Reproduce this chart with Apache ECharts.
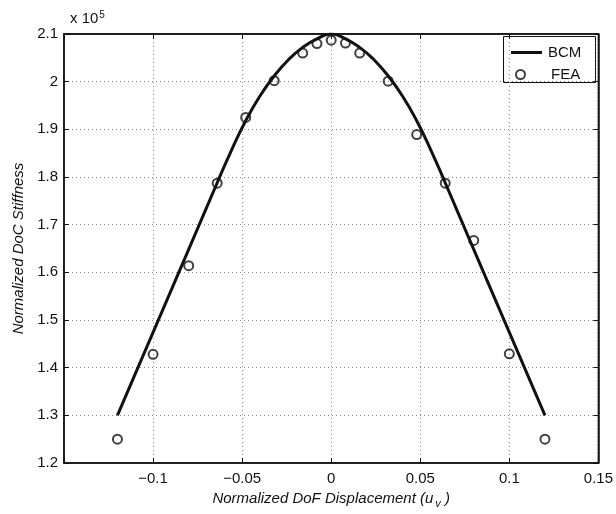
<!DOCTYPE html>
<html>
<head>
<meta charset="utf-8">
<script src="https://cdn.jsdelivr.net/npm/echarts@6/dist/echarts.min.js"></script>
<style>html,body{margin:0;padding:0;background:#fff}#c{width:616px;height:514px}</style>
</head>
<body>
<div id="c"></div>
<script>
// BCM curve (x, stiffness in units of 1e5)
const bcmX = [-0.12, -0.10, -0.08, -0.064, -0.056, -0.048, -0.04, -0.032, -0.024, -0.016, -0.008, 0, 0.008, 0.016, 0.024, 0.032, 0.04, 0.048, 0.056, 0.064, 0.08, 0.10, 0.12];
const bcmY = [1.300, 1.474, 1.648, 1.788, 1.856, 1.918, 1.970, 2.012, 2.046, 2.072, 2.090, 2.100, 2.090, 2.072, 2.046, 2.012, 1.970, 1.918, 1.856, 1.788, 1.648, 1.474, 1.300];
// FEA points
const feaX = [-0.12, -0.10, -0.08, -0.064, -0.048, -0.032, -0.016, -0.008, 0, 0.008, 0.016, 0.032, 0.048, 0.064, 0.08, 0.10, 0.12];
const feaY = [1.25, 1.428, 1.614, 1.787, 1.925, 2.002, 2.060, 2.080, 2.087, 2.081, 2.060, 2.001, 1.889, 1.787, 1.667, 1.429, 1.250];
const xTicks = [-0.15, -0.1, -0.05, 0, 0.05, 0.1, 0.15];
const yTicks = [1.2, 1.3, 1.4, 1.5, 1.6, 1.7, 1.8, 1.9, 2.0, 2.1];

const FONT = '"Liberation Sans", Arial, Helvetica, sans-serif';
const chart = echarts.init(document.getElementById('c'));
const fmtX = v => {
  if (Math.abs(v - xTicks[0]) < 1e-9) return '';
  const s = String(Number(v.toFixed(3)));
  return s.replace('-', '\u2212');
};
const fmtY = v => String(Number(v.toFixed(2)));
const gridLine = {show: true, lineStyle: {color: '#888', type: [1, 3], width: 1}};
const axisLine = {show: true, onZero: false, lineStyle: {color: '#111', width: 1.5}};
const tick = {show: true, inside: true, length: 5, lineStyle: {color: '#111'}};
chart.setOption({
  animation: false,
  backgroundColor: '#fff',
  title: {
    text: 'x 10{s|5}', left: 65, top: 5,
    textStyle: {fontFamily: FONT, fontSize: 15, fontWeight: 'normal', color: '#111',
      rich: {s: {fontFamily: FONT, fontSize: 10, verticalAlign: 'top', padding: [0, 0, 8, 1], color: '#111'}}}
  },
  grid: {left: 64, right: 16, top: 34, bottom: 48, show: true, borderColor: '#111', borderWidth: 1.5, backgroundColor: 'transparent'},
  xAxis: [{
    type: 'value', min: xTicks[0], max: xTicks[xTicks.length - 1], interval: 0.05,
    axisLine: axisLine, axisTick: tick,
    axisLabel: {formatter: fmtX, fontFamily: FONT, fontSize: 15, color: '#111', margin: 8},
    splitLine: gridLine,
    name: 'Normalized DoF Displacement (u{sub|v} )', nameLocation: 'middle', nameGap: 25,
    nameTextStyle: {fontFamily: FONT, fontSize: 15, fontStyle: 'italic', color: '#111',
      rich: {sub: {fontFamily: FONT, fontSize: 11, fontStyle: 'italic', verticalAlign: 'bottom', padding: [10, 0, 0, 2], color: '#111'}}}
  }, {
    type: 'value', min: xTicks[0], max: xTicks[xTicks.length - 1], interval: 0.05, position: 'top',
    axisLine: axisLine, axisTick: tick,
    axisLabel: {show: false}, splitLine: {show: false}
  }],
  yAxis: [{
    type: 'value', min: yTicks[0], max: yTicks[yTicks.length - 1], interval: 0.1,
    axisLine: axisLine, axisTick: tick,
    axisLabel: {formatter: fmtY, fontFamily: FONT, fontSize: 15, color: '#111', margin: 6},
    splitLine: gridLine,
    name: 'Normalized DoC Stiffness', nameLocation: 'middle', nameGap: 36,
    nameTextStyle: {fontFamily: FONT, fontSize: 15, fontStyle: 'italic', color: '#111'}
  }, {
    type: 'value', min: yTicks[0], max: yTicks[yTicks.length - 1], interval: 0.1, position: 'right',
    axisLine: axisLine, axisTick: tick,
    axisLabel: {show: false}, splitLine: {show: false}
  }],
  legend: [{
    data: [{name: 'BCM', icon: 'rect'}], left: 511, top: 45, itemWidth: 31, itemHeight: 3, padding: 0,
    itemStyle: {color: '#111'},
    textStyle: {fontFamily: FONT, fontSize: 15, color: '#111', padding: [0, 0, 0, 1]}
  }, {
    data: ['FEA'], left: 515, top: 67, itemWidth: 9, itemHeight: 9, padding: 0,
    textStyle: {fontFamily: FONT, fontSize: 15, color: '#111', padding: [0, 0, 0, 21]}
  }],
  graphic: [{
    type: 'rect', left: 503, top: 36, shape: {width: 92, height: 46},
    style: {fill: '#fff', stroke: '#111', lineWidth: 1}, z: 0, silent: true
  }],
  series: [{
    name: 'BCM', type: 'line', data: bcmX.map((x, i) => [x, bcmY[i]]),
    showSymbol: false, symbol: 'none', smooth: 0.5,
    lineStyle: {color: '#111', width: 3}, itemStyle: {color: '#111'}, z: 3
  }, {
    name: 'FEA', type: 'scatter', data: feaX.map((x, i) => [x, feaY[i]]),
    symbol: 'circle', symbolSize: 9,
    itemStyle: {color: 'rgba(255,255,255,0)', borderColor: '#111', borderWidth: 2}, z: 4
  }]
});
</script>
</body>
</html>
